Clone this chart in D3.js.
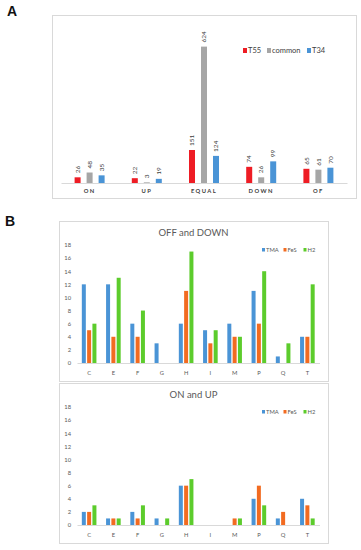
<!DOCTYPE html>
<meta charset="utf-8">
<style>
  body { margin: 0; background: #fff; }
  svg { display: block; background: #fff; font-family: Lato, "Liberation Sans", sans-serif; }
  .frame { fill: none; stroke: #d9d9d9; }
  .panel-label { font-family: "Liberation Sans", Arial, sans-serif; font-weight: bold; font-size: 14px; fill: #111; }
</style>
<body>
</body>
<script src="https://cdn.jsdelivr.net/npm/d3@7"></script>
<script>
  // panel A data
  const catsA = ['ON', 'UP', 'EQUAL', 'DOWN', 'OF'];
  const seriesA = ['T55', 'common', 'T34'];
  const t55 = [26, 22, 151, 74, 65];
  const common = [48, 3, 624, 26, 61];
  const t34 = [35, 19, 124, 99, 70];
  const colorsA = ['#ee1c24', '#a6a6a6', '#4a94d6'];

  // panel B data
  const catsB = ['C', 'E', 'F', 'G', 'H', 'I', 'M', 'P', 'Q', 'T'];
  const seriesB = ['TMA', 'FeS', 'H2'];
  const colorsB = ['#4a94d6', '#f26b21', '#5ccc2c'];
  const yTicksB = [0, 2, 4, 6, 8, 10, 12, 14, 16, 18];
  const offTMA = [12, 12, 6, 3, 6, 5, 6, 11, 1, 4];
  const offFeS = [5, 4, 4, 0, 11, 3, 4, 6, 0, 4];
  const offH2 = [6, 13, 8, 0, 17, 5, 4, 14, 3, 12];
  const onTMA = [2, 1, 2, 1, 6, 0, 0, 4, 1, 4];
  const onFeS = [2, 1, 1, 0, 6, 0, 1, 6, 2, 3];
  const onH2 = [3, 1, 3, 1, 7, 0, 1, 3, 0, 1];

  const svg = d3.select('body').append('svg')
    .attr('width', 361).attr('height', 550);

  // ---------- panel A ----------
  svg.append('text').attr('class', 'panel-label').attr('x', 7).attr('y', 16).text('A');
  svg.append('rect').attr('class', 'frame')
    .attr('x', 52.5).attr('y', 15.5).attr('width', 304).attr('height', 183);

  const xA = d3.scaleBand().domain(catsA).range([61, 347]);
  const sA = d3.scalePoint().domain(seriesA).range([-12, 12]);
  const yA = d3.scaleLinear().domain([0, 700]).range([183, 30]);
  const valsA = [t55, common, t34];

  const gA = svg.append('g');
  gA.append('g')
    .attr('transform', 'translate(0,183)')
    .call(d3.axisBottom(xA).tickSize(0).tickPadding(6))
    .call(a => a.select('.domain').attr('stroke', '#d9d9d9'))
    .call(a => a.selectAll('text')
      .attr('font-family', 'Lato, sans-serif')
      .attr('font-size', 5.8).attr('font-weight', 'bold')
      .attr('letter-spacing', 1.4).attr('fill', '#404040'));

  seriesA.forEach((s, si) => {
    const rows = catsA.map((c, i) => ({c, v: valsA[si][i]}));
    gA.append('g').selectAll('rect').data(rows).join('rect')
      .attr('x', d => xA(d.c) + xA.bandwidth() / 2 + sA(s) - 3)
      .attr('y', d => yA(d.v))
      .attr('width', 6)
      .attr('height', d => yA(0) - yA(d.v))
      .attr('fill', colorsA[si]);
    gA.append('g').selectAll('text').data(rows).join('text')
      .attr('transform', d => `translate(${xA(d.c) + xA.bandwidth() / 2 + sA(s) + 2.2},${yA(d.v) - 4}) rotate(-90)`)
      .attr('font-size', 6.5).attr('fill', '#404040')
      .text(d => d.v);
  });

  // legend A
  const legA = svg.append('g').attr('transform', 'translate(243,51)');
  const legAx = [0, 24, 64];
  seriesA.forEach((s, i) => {
    legA.append('rect').attr('x', legAx[i]).attr('y', -3).attr('width', 4).attr('height', 5).attr('fill', colorsA[i]);
    legA.append('text').attr('x', legAx[i] + 5).attr('y', 2.3)
      .attr('font-size', 7.5).attr('fill', '#404040').text(s);
  });

  // ---------- panel B ----------
  svg.append('text').attr('class', 'panel-label').attr('x', 5).attr('y', 226).text('B');

  function subChart(top, title, vals) {
    const g = svg.append('g').attr('transform', `translate(0,${top})`);
    g.append('rect').attr('class', 'frame')
      .attr('x', 59.5).attr('y', 0.5).attr('width', 269).attr('height', 160);
    g.append('text').attr('x', 193.5).attr('y', 15)
      .attr('text-anchor', 'middle').attr('font-size', 9.5).attr('fill', '#595959')
      .text(title);

    const x = d3.scaleBand().domain(catsB).range([77, 319.5]);
    const s = d3.scalePoint().domain(seriesB).range([-5.3, 5.3]);
    const y = d3.scaleLinear().domain([0, 18]).range([142, 24]);

    g.append('g')
      .attr('transform', 'translate(77,0)')
      .call(d3.axisLeft(y).tickValues(yTicksB).tickSize(0).tickPadding(6))
      .call(a => a.select('.domain').remove())
      .call(a => a.selectAll('text').attr('font-family', 'Lato, sans-serif')
        .attr('font-size', 5.8).attr('fill', '#595959'));

    g.append('g')
      .attr('transform', 'translate(0,142)')
      .call(d3.axisBottom(x).tickSize(0).tickPadding(8))
      .call(a => a.select('.domain').attr('stroke', '#d9d9d9'))
      .call(a => a.selectAll('text').attr('font-family', 'Lato, sans-serif')
        .attr('font-size', 5.8).attr('fill', '#595959'));

    seriesB.forEach((sn, si) => {
      const rows = catsB.map((c, i) => ({c, v: vals[si][i]}));
      g.append('g').selectAll('rect').data(rows).join('rect')
        .attr('x', d => x(d.c) + x.bandwidth() / 2 + s(sn) - 2)
        .attr('y', d => y(d.v))
        .attr('width', 4)
        .attr('height', d => y(0) - y(d.v))
        .attr('fill', colorsB[si]);
    });

    const leg = g.append('g').attr('transform', 'translate(262,29)');
    const legx = [0, 21.5, 41.5];
    seriesB.forEach((sn, i) => {
      leg.append('rect').attr('x', legx[i]).attr('y', -2).attr('width', 3).attr('height', 3.5).attr('fill', colorsB[i]);
      leg.append('text').attr('x', legx[i] + 4).attr('y', 1.8)
        .attr('font-size', 5.8).attr('fill', '#595959').text(sn);
    });
  }

  subChart(221, 'OFF and DOWN', [offTMA, offFeS, offH2]);
  subChart(383, 'ON and UP', [onTMA, onFeS, onH2]);
</script>
